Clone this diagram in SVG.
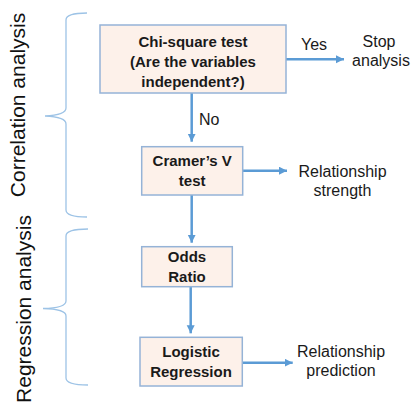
<svg xmlns="http://www.w3.org/2000/svg" width="411" height="405" viewBox="0 0 411 405">
<style>
.box{fill:#FDF1EA;stroke:#95B3D7;stroke-width:1.5}
.bt{font-family:"Liberation Sans",Arial,sans-serif;font-weight:bold;font-size:15px;fill:#1a1a1a;text-anchor:middle}
.t{font-family:"Liberation Sans",Arial,sans-serif;font-size:16px;fill:#1a1a1a}
.c{text-anchor:middle}
.side{font-family:"Liberation Sans",Arial,sans-serif;font-size:21px;fill:#111;text-anchor:middle}
.arr{stroke:#5B9BD5;stroke-width:2.5;fill:none;marker-end:url(#ah)}
.brace{stroke:#9DC3E6;stroke-width:1.3;fill:none}
</style>
<defs>
<marker id="ah" markerUnits="userSpaceOnUse" markerWidth="9" markerHeight="9" refX="8" refY="4" orient="auto">
<path d="M0,0 L8,4 L0,8 z" fill="#5B9BD5"/>
</marker>
</defs>
<g id="labels-side">
<text class="side" transform="translate(25,105) rotate(-90)">Correlation analysis</text>
<text class="side" transform="translate(31,309) rotate(-90)">Regression analysis</text>
<path class="brace" d="M87,13 Q66,13 66,20 L66,108 Q66,115 45,116 Q66,117 66,124 L66,210 Q66,217 87,217"/>
<path class="brace" d="M88,229 Q66,229 66,236 L66,301 Q66,308 43,308.5 Q66,309 66,316 L66,378 Q66,385 88,385"/>
</g>
<g id="connectors">
<line class="arr" x1="191.7" y1="93" x2="191.7" y2="141.7"/>
<line class="arr" x1="191.7" y1="195" x2="191.7" y2="242.7"/>
<line class="arr" x1="190.7" y1="287" x2="190.7" y2="333.3"/>
<line class="arr" x1="286" y1="59.3" x2="344" y2="59.3"/>
<line class="arr" x1="243" y1="170.7" x2="287" y2="170.7"/>
<line class="arr" x1="242.3" y1="362.7" x2="292.7" y2="362.7"/>
<text class="t" x="301" y="50">Yes</text>
<text class="t" x="199" y="125">No</text>
</g>
<g id="chi">
<rect class="box" x="100" y="25" width="186" height="68"/>
<text class="bt" x="193" y="47">Chi-square test</text>
<text class="bt" x="193" y="67">(Are the variables</text>
<text class="bt" x="193" y="87">independent?)</text>
</g>
<g id="stop">
<text class="t c" x="379" y="46.7">Stop</text>
<text class="t c" x="381" y="65.7">analysis</text>
</g>
<g id="cramer">
<rect class="box" x="141.7" y="146.7" width="101" height="48.3"/>
<text class="bt" x="192.2" y="165.5">Cramer’s V</text>
<text class="bt" x="192.2" y="186">test</text>
</g>
<g id="strength">
<text class="t c" x="342.5" y="176.5">Relationship</text>
<text class="t c" x="342.5" y="196">strength</text>
</g>
<g id="odds">
<rect class="box" x="141.7" y="246.7" width="90.6" height="40"/>
<text class="bt" x="187" y="261.5">Odds</text>
<text class="bt" x="187" y="281.7">Ratio</text>
</g>
<g id="logistic">
<rect class="box" x="140" y="337.3" width="102.3" height="48.7"/>
<text class="bt" x="191" y="356.7">Logistic</text>
<text class="bt" x="191" y="377">Regression</text>
</g>
<g id="prediction">
<text class="t c" x="341" y="356.5">Relationship</text>
<text class="t c" x="341" y="376">prediction</text>
</g>
</svg>
